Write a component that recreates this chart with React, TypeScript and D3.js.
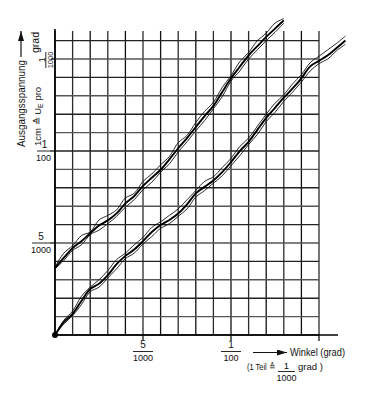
import * as d3 from 'd3'

// abscissa in 1/1000 grad, shared by the three traces of each bundle
const upperX = [0, 0.5, 1, 1.5, 2, 2.5, 3, 3.5, 4, 4.5, 5, 5.5, 6, 6.5, 7, 7.5, 8, 8.5, 9, 9.5, 10, 10.5, 11, 11.5, 12, 12.5, 13]
const upperMain = [3.64, 4.2, 4.72, 5.1, 5.53, 5.95, 6.23, 6.61, 7.15, 7.55, 8.1, 8.55, 8.98, 9.55, 10.15, 10.7, 11.3, 11.9, 12.45, 13.2, 13.95, 14.58, 15.2, 15.7, 16.2, 16.65, 17.1]
const upperThinA = [3.7, 4.45, 4.85, 5.4, 5.6, 6.25, 6.5, 6.8, 7.45, 7.7, 8.35, 8.75, 9.25, 9.7, 10.45, 10.85, 11.55, 12.15, 12.65, 13.45, 14.1, 14.85, 15.35, 16.0, 16.4, 16.95, 17.2]
const upperThinB = [3.6, 4.05, 4.6, 4.9, 5.45, 5.7, 6.05, 6.45, 6.95, 7.35, 7.9, 8.3, 8.85, 9.3, 9.95, 10.5, 11.1, 11.65, 12.3, 12.95, 13.8, 14.35, 15.0, 15.5, 16.0, 16.45, 16.95]

const lowerX = [0, 0.5, 1, 1.5, 2, 2.5, 3, 3.5, 4, 4.5, 5, 5.5, 6, 6.5, 7, 7.5, 8, 8.5, 9, 9.5, 10, 10.5, 11, 11.5, 12, 12.5, 13, 13.5, 14, 14.5, 15, 15.5, 16, 16.5]
const lowerMain = [0, 0.7, 1.15, 1.85, 2.5, 2.78, 3.25, 3.85, 4.3, 4.65, 5.1, 5.6, 5.98, 6.25, 6.6, 7.1, 7.7, 8.05, 8.4, 8.85, 9.4, 10.0, 10.5, 11.15, 11.8, 12.35, 12.9, 13.4, 13.95, 14.6, 14.9, 15.2, 15.6, 16.0]
const lowerThinA = [0, 0.8, 1.3, 2.1, 2.6, 3.0, 3.5, 4.1, 4.45, 4.9, 5.3, 5.85, 6.15, 6.5, 6.85, 7.35, 7.85, 8.35, 8.6, 9.1, 9.6, 10.25, 10.7, 11.35, 12.0, 12.6, 13.05, 13.65, 14.15, 14.8, 15.15, 15.5, 15.85, 16.25]
const lowerThinB = [0, 0.6, 1.05, 1.65, 2.35, 2.6, 3.1, 3.6, 4.15, 4.45, 4.95, 5.35, 5.8, 6.05, 6.45, 6.85, 7.5, 7.85, 8.25, 8.65, 9.2, 9.75, 10.35, 10.9, 11.6, 12.1, 12.7, 13.2, 13.75, 14.35, 14.75, 15.0, 15.45, 15.8]

// labelled ticks, written as fractions
const xTicks = [{ v: 5, num: '5', den: '1000' }, { v: 10, num: '1', den: '100' }]
const yTicks = [{ v: 5, num: '5', den: '1000' }, { v: 10, num: '1', den: '100' }]
const yMarkOnly = [15]

const FONT = '"Liberation Sans", Arial, sans-serif'

export default function App() {
  const W = 369, H = 393
  const x = d3.scaleLinear().domain([0, 15]).range([55, 319])
  const y = d3.scaleLinear().domain([0, 16]).range([335, 40.6])
  const gridTop = 31

  const line = (xs: number[]) => d3.line<number>()
    .x((_, i) => x(xs[i]))
    .y(d => y(d))
    .curve(d3.curveCatmullRom.alpha(0.5))

  const upper = line(upperX)
  const lower = line(lowerX)

  return (
    <svg width={W} height={H} style={{ position: 'absolute', left: 0, top: 0, background: '#fff' }}
      fontFamily={FONT}>
      <defs>
        <marker id="ah" viewBox="0 0 10 6" refX="10" refY="3" markerWidth="10" markerHeight="6"
          markerUnits="userSpaceOnUse" orient="auto">
          <path d="M0,0 L10,3 L0,6 Z" fill="#111" />
        </marker>
      </defs>
      <rect width={W} height={H} fill="#fff" />

      {/* grid */}
      {x.ticks(15).map(t => (
        <line key={'v' + t} x1={x(t)} x2={x(t)} y1={y(0)} y2={gridTop}
          stroke={t % 2 ? '#2a2a2a' : '#111'} strokeWidth={1.3} />
      ))}
      {y.ticks(16).map(t => (
        <line key={'h' + t} x1={x(0)} x2={x(15)} y1={y(t)} y2={y(t)}
          stroke={t % 2 ? '#555' : '#222'} strokeWidth={1.4} />
      ))}

      {/* axes */}
      <line x1={x(0)} x2={x(0)} y1={y(0)} y2={29} stroke="#000" strokeWidth={1.6} />
      <line x1={x(0)} x2={338} y1={y(0)} y2={y(0)} stroke="#000" strokeWidth={1.6} />
      <line x1={x(15)} x2={x(15)} y1={y(0)} y2={y(0) + 6} stroke="#000" strokeWidth={1.2} />

      {xTicks.map(t => (
        <g key={'xt' + t.v} fontSize={10} textAnchor="middle" fill="#111">
          <line x1={x(t.v)} x2={x(t.v)} y1={y(0)} y2={y(0) + 5} stroke="#000" strokeWidth={1.2} />
          <text x={x(t.v)} y={348}>{t.num}</text>
          <line x1={x(t.v) - 10} x2={x(t.v) + 10} y1={351.5} y2={351.5} stroke="#111" strokeWidth={0.9} />
          <text x={x(t.v)} y={361} fontSize={9}>{t.den}</text>
        </g>
      ))}

      {yTicks.map(t => (
        <g key={'yt' + t.v} fontSize={10} textAnchor="middle" fill="#111">
          <line x1={x(0) - 5} x2={x(0)} y1={y(t.v)} y2={y(t.v)} stroke="#000" strokeWidth={1.2} />
          <text x={t.v === 5 ? 41 : 44.5} y={y(t.v) - 3}>{t.num}</text>
          <line x1={t.v === 5 ? 32 : 37} x2={50} y1={y(t.v)} y2={y(t.v)} stroke="#111" strokeWidth={0.9} />
          <text x={t.v === 5 ? 41 : 43.5} y={y(t.v) + 9.5} fontSize={9}>{t.den}</text>
        </g>
      ))}
      {yMarkOnly.map(v => (
        <line key={'ym' + v} x1={x(0) - 4} x2={x(0)} y1={y(v)} y2={y(v)} stroke="#000" strokeWidth={1.2} />
      ))}

      {/* curves */}
      {[upperThinA, upperThinB].map((d, i) => (
        <path key={'ua' + i} d={upper(d) ?? ''} fill="none" stroke="#111" strokeWidth={0.9} />
      ))}
      <path d={upper(upperMain) ?? ''} fill="none" stroke="#000" strokeWidth={1.9} />
      {[lowerThinA, lowerThinB].map((d, i) => (
        <path key={'la' + i} d={lower(d) ?? ''} fill="none" stroke="#111" strokeWidth={0.9} />
      ))}
      <path d={lower(lowerMain) ?? ''} fill="none" stroke="#000" strokeWidth={1.9} />
      <circle cx={x(0)} cy={y(0)} r={3} fill="#000" />

      {/* y-axis title, rotated */}
      <text transform="translate(25,147) rotate(-90)" fontSize={10} textLength={87}
        lengthAdjust="spacingAndGlyphs" fill="#111">Ausgangsspannung</text>
      <line x1={21} x2={21} y1={57} y2={31} stroke="#111" strokeWidth={1.2} markerEnd="url(#ah)" />
      <text transform="translate(40.5,146) rotate(-90)" fontSize={9.5} fill="#111">
        1cm ≙ U<tspan fontSize={7} dy={2.5}>E</tspan><tspan dy={-2.5}> pro</tspan>
      </text>
      <text transform="translate(44.5,60) rotate(-90)" fontSize={8.5} textAnchor="middle" fill="#111">1</text>
      <line x1={45.8} x2={45.8} y1={52} y2={68} stroke="#111" strokeWidth={0.9} />
      <text transform="translate(52.5,60) rotate(-90)" fontSize={7.5} textAnchor="middle" fill="#111">1000</text>
      <text transform="translate(39,53) rotate(-90)" fontSize={10} textLength={21}
        lengthAdjust="spacingAndGlyphs" fill="#111">grad</text>

      {/* x-axis title */}
      <line x1={253} x2={287} y1={352.5} y2={352.5} stroke="#111" strokeWidth={1.2} markerEnd="url(#ah)" />
      <text x={290} y={356} fontSize={10} textLength={55} lengthAdjust="spacingAndGlyphs" fill="#111">Winkel (grad)</text>
      <text x={247} y={370} fontSize={9.5} textLength={28} lengthAdjust="spacingAndGlyphs" fill="#111">(1 Teil ≙</text>
      <text x={286.5} y={369} fontSize={9.5} textAnchor="middle" fill="#111">1</text>
      <line x1={278} x2={295} y1={371.5} y2={371.5} stroke="#111" strokeWidth={0.9} />
      <text x={286.5} y={381} fontSize={9} textAnchor="middle" fill="#111">1000</text>
      <text x={298} y={370} fontSize={9.5} textLength={25} lengthAdjust="spacingAndGlyphs" fill="#111">grad )</text>
    </svg>
  )
}
